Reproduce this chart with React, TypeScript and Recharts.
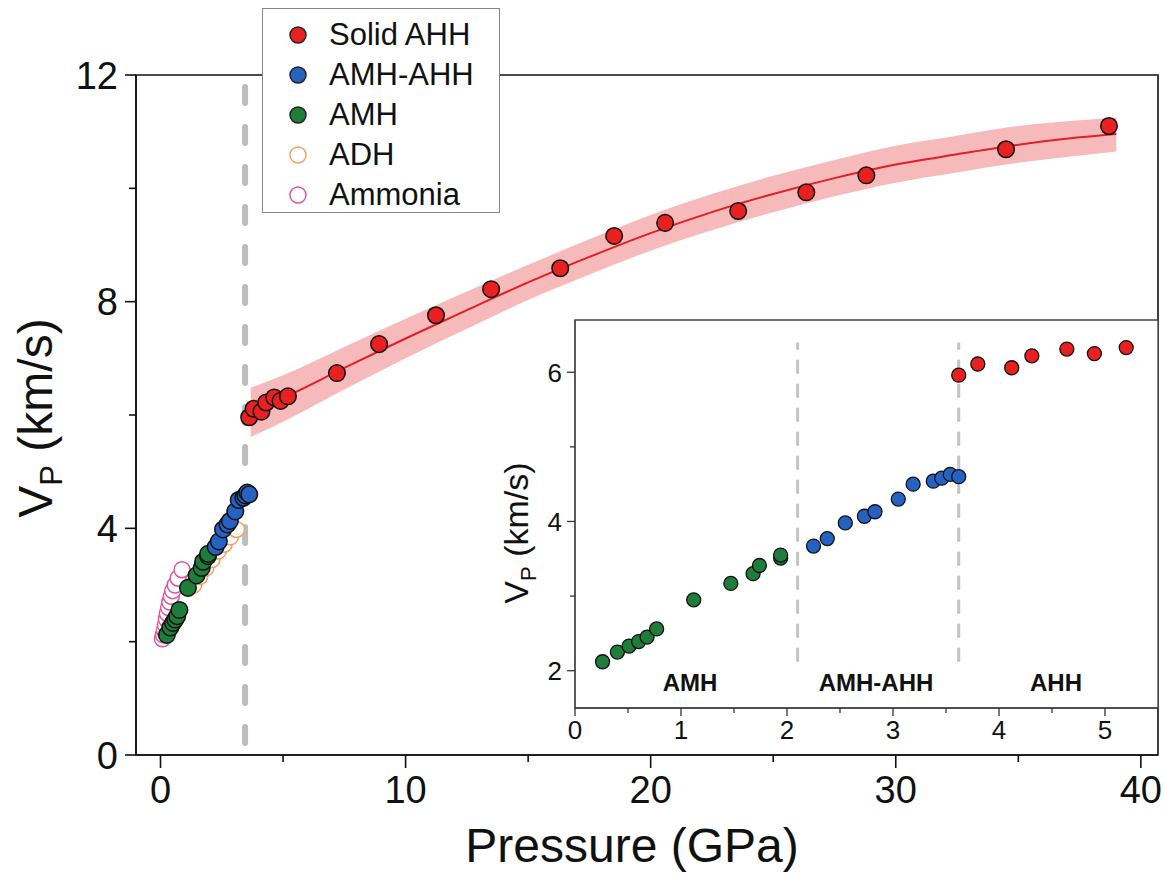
import {
  ComposedChart, Scatter, Line, Area, XAxis, YAxis,
  ReferenceLine, ReferenceArea
} from 'recharts';

// AMH (green) points
const amhP = [0.26, 0.40, 0.51, 0.60, 0.68, 0.77, 1.12, 1.47, 1.68, 1.74, 1.94, 1.94];
const amhV = [2.12, 2.25, 2.33, 2.39, 2.45, 2.56, 2.95, 3.17, 3.30, 3.41, 3.51, 3.55];

// AMH-AHH (blue)
const mixP = [2.25, 2.38, 2.55, 2.73, 2.83, 3.05, 3.19, 3.38, 3.46, 3.54, 3.62];
const mixV = [3.67, 3.77, 3.98, 4.07, 4.13, 4.30, 4.50, 4.54, 4.58, 4.63, 4.60];

// Solid AHH (red)
const ahhP = [3.62, 3.80, 4.12, 4.31, 4.64, 4.90, 5.20, 7.2, 8.92, 11.24, 13.49, 16.31, 18.51, 20.59, 23.57, 26.35, 28.8, 34.5, 38.7];
const ahhV = [5.96, 6.11, 6.06, 6.22, 6.31, 6.25, 6.33, 6.74, 7.25, 7.76, 8.22, 8.59, 9.16, 9.39, 9.6, 9.93, 10.23, 10.69, 11.1];

// ADH (open orange), mostly hidden behind the green / blue points
const adhP = [1.35, 1.6, 1.85, 2.1, 2.35, 2.6, 2.85, 3.1];
const adhV = [3.0, 3.15, 3.3, 3.45, 3.6, 3.72, 3.85, 3.98];

// Ammonia (open pink)
const ammP = [0.08, 0.12, 0.16, 0.2, 0.24, 0.28, 0.33, 0.38, 0.44, 0.5, 0.6, 0.72, 0.88];
const ammV = [2.05, 2.12, 2.2, 2.3, 2.4, 2.5, 2.6, 2.7, 2.8, 2.9, 3.0, 3.12, 3.27];

// fit curve and its error band
const fitP = [3.68, 5, 7.5, 10, 12.5, 15, 17.5, 20, 22.5, 25, 27.5, 30, 32.5, 35, 37.5, 39];
const fitV = [6.05, 6.3, 6.83, 7.35, 7.85, 8.34, 8.79, 9.21, 9.58, 9.9, 10.18, 10.42, 10.6, 10.77, 10.9, 10.96];
const bandHi = [6.48, 6.7, 7.2, 7.7, 8.18, 8.65, 9.1, 9.53, 9.9, 10.22, 10.5, 10.75, 10.93, 11.1, 11.2, 11.25];
const bandLo = [5.61, 5.88, 6.45, 7.0, 7.52, 8.03, 8.48, 8.9, 9.26, 9.58, 9.86, 10.1, 10.28, 10.45, 10.58, 10.65];

const mainXTicks = [0, 5, 10, 15, 20, 25, 30, 35, 40];
const mainYTicks = [0, 2, 4, 6, 8, 10, 12];
const insetXTicks = [0, 0.5, 1, 1.5, 2, 2.5, 3, 3.5, 4, 4.5, 5];
const insetYTicks = [2, 3, 4, 5, 6];

const RED = '#e8201f';
const BLUE = '#2662c2';
const GREEN = '#1f7d3b';
const ORANGE = '#f0a060';
const PINK = '#e0559e';
const FONT = '"Liberation Sans", Arial, sans-serif';

const pts = (xs: number[], ys: number[]) => xs.map((p, i) => ({ p, v: ys[i] }));

const fitData = fitP.map((p, i) => ({ p, fit: fitV[i], band: [bandLo[i], bandHi[i]] }));
const insetRed = pts(ahhP, ahhV).filter((d) => d.p < 5.5);

const dot = (r: number, fill: string, stroke: string, sw = 1.5) => (props: any) => (
  <circle cx={props.cx} cy={props.cy} r={r} fill={fill} stroke={stroke} strokeWidth={sw} />
);

const MainXTick = ({ x, y, payload }: any) => {
  const major = payload.value % 10 === 0;
  return (
    <g>
      <line x1={x} y1={y} x2={x} y2={y + (major ? 13 : 7)} stroke="#111" strokeWidth={1.6} />
      {major && (
        <text x={x} y={y + 48} textAnchor="middle" fontSize={38} fontFamily={FONT} fill="#111">
          {payload.value}
        </text>
      )}
    </g>
  );
};

const MainYTick = ({ x, y, payload }: any) => {
  const major = payload.value % 4 === 0;
  return (
    <g>
      <line x1={x - (major ? 11 : 7)} y1={y} x2={x} y2={y} stroke="#111" strokeWidth={1.6} />
      {major && (
        <text x={x - 18} y={y} dy="0.36em" textAnchor="end" fontSize={38} fontFamily={FONT} fill="#111">
          {payload.value}
        </text>
      )}
    </g>
  );
};

const InsetXTick = ({ x, y, payload }: any) => {
  const major = Number.isInteger(payload.value);
  return (
    <g>
      <line x1={x} y1={y} x2={x} y2={y + (major ? 8 : 5)} stroke="#333" strokeWidth={1.3} />
      {major && (
        <text x={x} y={y + 31} textAnchor="middle" fontSize={26} fontFamily={FONT} fill="#111">
          {payload.value}
        </text>
      )}
    </g>
  );
};

const InsetYTick = ({ x, y, payload }: any) => {
  const major = payload.value % 2 === 0;
  return (
    <g>
      <line x1={x - (major ? 8 : 5)} y1={y} x2={x} y2={y} stroke="#333" strokeWidth={1.3} />
      {major && (
        <text x={x - 13} y={y} dy="0.36em" textAnchor="end" fontSize={26} fontFamily={FONT} fill="#111">
          {payload.value}
        </text>
      )}
    </g>
  );
};

const legendItems = [
  { name: 'Solid AHH', fill: RED, stroke: '#222' },
  { name: 'AMH-AHH', fill: BLUE, stroke: '#222' },
  { name: 'AMH', fill: GREEN, stroke: '#222' },
  { name: 'ADH', fill: '#fff', stroke: ORANGE },
  { name: 'Ammonia', fill: '#fff', stroke: PINK },
];

const App = () => {
  return (
    <div style={{ position: 'absolute', left: 0, top: 0, width: 1165, height: 874, background: '#fff', fontFamily: FONT }}>
      {/* main chart */}
      <div style={{ position: 'absolute', left: 0, top: 0 }}>
        <ComposedChart width={1165} height={874} data={fitData} margin={{ top: 75, right: 7, bottom: 59, left: 76 }}>
          <XAxis
            type="number" dataKey="p" domain={[-1, 40.7]} ticks={mainXTicks} allowDataOverflow
            height={60} tickSize={0} tickMargin={0} tickLine={false}
            axisLine={{ stroke: '#111', strokeWidth: 1.6 }} tick={MainXTick} interval={0}
          />
          <YAxis
            type="number" dataKey="v" domain={[0, 12]} ticks={mainYTicks} allowDataOverflow
            width={60} tickSize={0} tickMargin={0} tickLine={false}
            axisLine={{ stroke: '#111', strokeWidth: 1.6 }} tick={MainYTick} interval={0}
          />
          <ReferenceArea x1={-1} x2={40.7} y1={0} y2={12} fill="none" stroke="#111" strokeWidth={1.6} />
          <Area
            dataKey="band" type="monotone" stroke="none" fill="#ee6666" fillOpacity={0.45}
            isAnimationActive={false} activeDot={false}
          />
          <Line
            dataKey="fit" type="monotone" stroke="#e31e24" strokeWidth={2} dot={false}
            isAnimationActive={false} activeDot={false}
          />
          <ReferenceLine
            x={3.45} stroke="#bdbdbd" strokeWidth={6} strokeDasharray="16 24"
            strokeDashoffset={-12} strokeLinecap="round"
          />
          <Scatter data={pts(adhP, adhV)} shape={dot(8, '#fff', ORANGE)} isAnimationActive={false} />
          <Scatter data={pts(ammP, ammV)} shape={dot(8, '#fff', PINK)} isAnimationActive={false} />
          <Scatter data={pts(amhP, amhV)} shape={dot(8.3, GREEN, '#111')} isAnimationActive={false} />
          <Scatter data={pts(mixP, mixV)} shape={dot(8.3, BLUE, '#111')} isAnimationActive={false} />
          <Scatter data={pts(ahhP, ahhV)} shape={dot(8.3, RED, '#111')} isAnimationActive={false} />
        </ComposedChart>
      </div>

      {/* inset background */}
      <div style={{ position: 'absolute', left: 575, top: 320, width: 583, height: 388, background: '#fff' }} />

      {/* inset chart */}
      <div style={{ position: 'absolute', left: 480, top: 300 }}>
        <ComposedChart width={685} height={460} margin={{ top: 20, right: 7, bottom: 12, left: 55 }}>
          <XAxis
            type="number" dataKey="p" domain={[0, 5.5]} ticks={insetXTicks} allowDataOverflow
            height={40} tickSize={0} tickMargin={0} tickLine={false}
            axisLine={{ stroke: '#444', strokeWidth: 1.3 }} tick={InsetXTick} interval={0}
          />
          <YAxis
            type="number" dataKey="v" domain={[1.5, 6.7]} ticks={insetYTicks} allowDataOverflow
            width={40} tickSize={0} tickMargin={0} tickLine={false}
            axisLine={{ stroke: '#444', strokeWidth: 1.3 }} tick={InsetYTick} interval={0}
          />
          <ReferenceArea x1={0} x2={5.5} y1={1.5} y2={6.7} fill="none" stroke="#444" strokeWidth={1.3} />
          <ReferenceLine
            segment={[{ x: 2.1, y: 2.12 }, { x: 2.1, y: 6.4 }]}
            stroke="#c4c4c4" strokeWidth={3} strokeDasharray="14 10"
          />
          <ReferenceLine
            segment={[{ x: 3.62, y: 2.12 }, { x: 3.62, y: 6.4 }]}
            stroke="#c4c4c4" strokeWidth={3} strokeDasharray="14 10"
          />
          <Scatter data={pts(amhP, amhV)} shape={dot(7, GREEN, '#111', 1.3)} isAnimationActive={false} />
          <Scatter data={pts(mixP, mixV)} shape={dot(7, BLUE, '#111', 1.3)} isAnimationActive={false} />
          <Scatter data={insetRed} shape={dot(7, RED, '#111', 1.3)} isAnimationActive={false} />
        </ComposedChart>
      </div>

      {/* axis titles and region labels */}
      <svg width={1165} height={874} style={{ position: 'absolute', left: 0, top: 0, pointerEvents: 'none' }}>
        <text x={52} y={418} transform="rotate(-90 52 418)" textAnchor="middle" fontSize={48} fontFamily={FONT} fill="#111">
          V<tspan fontSize={31} dy={10}>P</tspan><tspan dy={-10}> (km/s)</tspan>
        </text>
        <text x={632} y={862} textAnchor="middle" fontSize={48} fontFamily={FONT} fill="#111">
          Pressure (GPa)
        </text>
        <text x={528} y={533} transform="rotate(-90 528 533)" textAnchor="middle" fontSize={34} fontFamily={FONT} fill="#111">
          V<tspan fontSize={22} dy={8}>P</tspan><tspan dy={-8}> (km/s)</tspan>
        </text>
        <text x={690} y={691} textAnchor="middle" fontSize={24} fontWeight="bold" fontFamily={FONT} fill="#111">AMH</text>
        <text x={876} y={691} textAnchor="middle" fontSize={24} fontWeight="bold" fontFamily={FONT} fill="#111">AMH-AHH</text>
        <text x={1056} y={691} textAnchor="middle" fontSize={24} fontWeight="bold" fontFamily={FONT} fill="#111">AHH</text>
      </svg>

      {/* legend */}
      <div
        style={{
          position: 'absolute', left: 262, top: 8, width: 238, height: 205,
          border: '1.5px solid #888', background: '#fff', boxSizing: 'border-box',
        }}
      >
        {legendItems.map((it, i) => (
          <div key={it.name} style={{ position: 'absolute', left: 0, top: 6 + i * 40, height: 40, display: 'flex', alignItems: 'center' }}>
            <svg width={20} height={20} style={{ marginLeft: 25 }}>
              <circle cx={10} cy={10} r={8} fill={it.fill} stroke={it.stroke} strokeWidth={1.5} />
            </svg>
            <span style={{ marginLeft: 21, fontSize: 31, color: '#111', lineHeight: '40px' }}>{it.name}</span>
          </div>
        ))}
      </div>
    </div>
  );
};

export default App;
